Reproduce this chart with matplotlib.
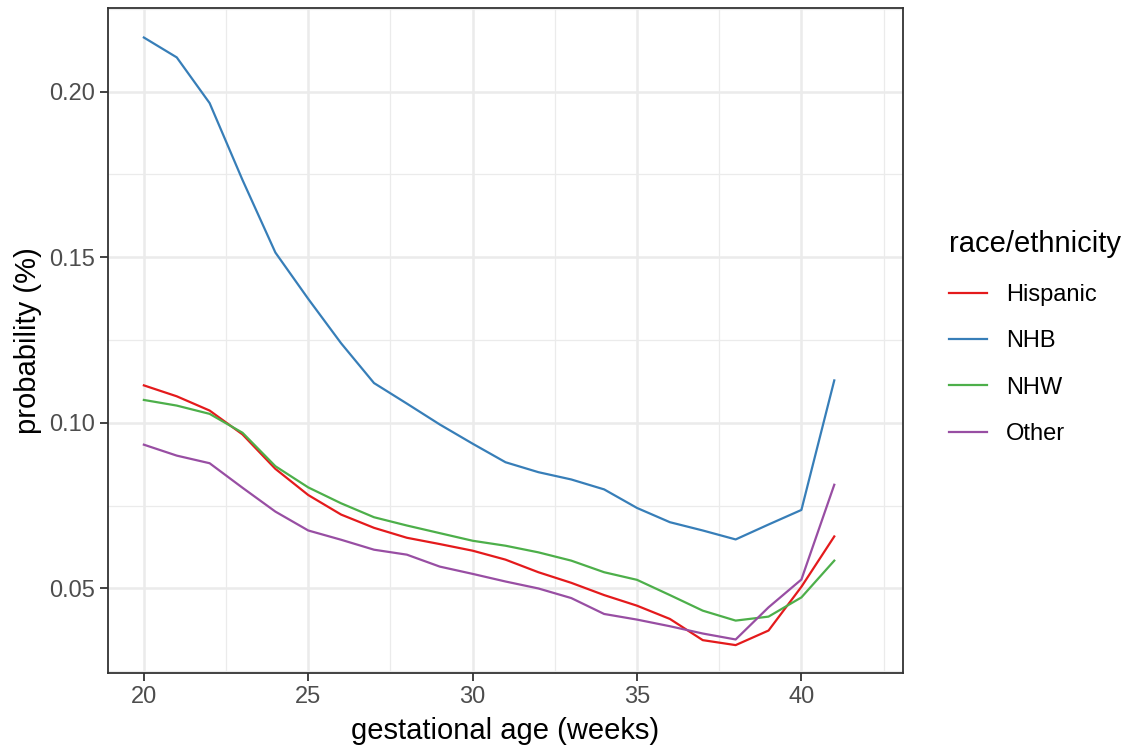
#!/usr/bin/env python3
"""Probability by gestational age, split by race/ethnicity (ggplot theme_bw look)."""

import matplotlib
matplotlib.use("Agg")
import matplotlib.pyplot as plt
from matplotlib.ticker import MultipleLocator, FormatStrFormatter

weeks = list(range(20, 42))

hispanic = [0.1113, 0.1080, 0.1037, 0.0965, 0.0861, 0.0782, 0.0723, 0.0683,
            0.0653, 0.0634, 0.0614, 0.0587, 0.0549, 0.0517, 0.0480, 0.0448,
            0.0408, 0.0344, 0.0329, 0.0373, 0.0505, 0.0657]
nhb = [0.2163, 0.2103, 0.1965, 0.1733, 0.1514, 0.1374, 0.1240, 0.1120,
       0.1058, 0.0995, 0.0937, 0.0881, 0.0851, 0.0829, 0.0799, 0.0743,
       0.0700, 0.0675, 0.0648, 0.0693, 0.0737, 0.1128]
nhw = [0.1069, 0.1052, 0.1027, 0.0970, 0.0869, 0.0805, 0.0757, 0.0715,
       0.0690, 0.0667, 0.0644, 0.0629, 0.0609, 0.0584, 0.0549, 0.0526,
       0.0480, 0.0433, 0.0403, 0.0415, 0.0473, 0.0584]
other = [0.0934, 0.0901, 0.0878, 0.0804, 0.0732, 0.0675, 0.0647, 0.0617,
         0.0602, 0.0566, 0.0544, 0.0521, 0.0500, 0.0471, 0.0423, 0.0406,
         0.0386, 0.0364, 0.0346, 0.0443, 0.0527, 0.0813]

groups = ["Hispanic", "NHB", "NHW", "Other"]
series = [hispanic, nhb, nhw, other]
colors = ["#E41A1C", "#377EB8", "#4DAF4A", "#984EA3"]

plt.rcParams["font.family"] = ["Liberation Sans", "DejaVu Sans"]

fig = plt.figure(figsize=(11.29, 7.5), dpi=100)
ax = fig.add_axes([0.0954, 0.1023, 0.7047, 0.887])

for name, vals, col in zip(groups, series, colors):
    ax.plot(weeks, vals, color=col, linewidth=1.6, label=name, zorder=3)

ax.set_xlim(18.9, 43.1)
ax.set_ylim(0.0244, 0.2252)
ax.xaxis.set_major_locator(MultipleLocator(5))
ax.xaxis.set_minor_locator(MultipleLocator(2.5))
ax.yaxis.set_major_locator(MultipleLocator(0.05))
ax.yaxis.set_minor_locator(MultipleLocator(0.025))
ax.yaxis.set_major_formatter(FormatStrFormatter("%.2f"))

ax.grid(True, which="major", color="#EBEBEB", linewidth=1.8, zorder=0)
ax.grid(True, which="minor", color="#EBEBEB", linewidth=0.9, zorder=0)
ax.set_axisbelow(True)

for spine in ax.spines.values():
    spine.set_color("#333333")
    spine.set_linewidth(1.3)

ax.tick_params(which="major", length=5.5, width=1.3, color="#333333",
               labelsize=17, labelcolor="#4D4D4D", pad=4)
ax.tick_params(which="minor", length=0)

ax.set_xlabel("gestational age (weeks)", fontsize=21, color="black", labelpad=6)
ax.set_ylabel("probability (%)", fontsize=21, color="black", labelpad=5)

leg = ax.legend(title="race/ethnicity", loc="center left",
                bbox_to_anchor=(1.031, 0.505), frameon=False,
                fontsize=17, title_fontsize=21, handlelength=1.6,
                handletextpad=0.8, labelspacing=1.03)
leg._legend_box.align = "left"
leg._legend_box.sep = 19

fig.savefig("out.png", dpi=100)
